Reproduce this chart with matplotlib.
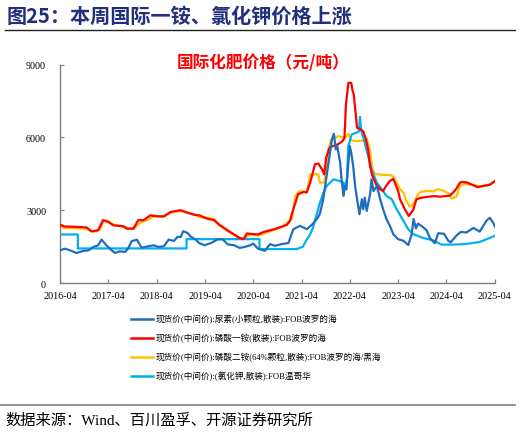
import matplotlib
matplotlib.use("Agg")
import matplotlib.pyplot as plt
from matplotlib.lines import Line2D

plt.rcParams['font.family'] = ['Liberation Serif', 'Noto Sans CJK SC', 'DejaVu Sans']

# ---- data (decimal years, yuan/ton) ----
urea_t = [2016.25, 2016.35, 2016.49, 2016.59, 2016.73, 2016.84, 2016.94, 2017.04, 2017.11, 2017.21,
          2017.32, 2017.39, 2017.49, 2017.60, 2017.67, 2017.73, 2017.84, 2017.94, 2018.08, 2018.19,
          2018.29, 2018.40, 2018.50, 2018.61, 2018.68, 2018.75, 2018.80, 2018.89, 2018.95, 2019.06,
          2019.13, 2019.24, 2019.38, 2019.52, 2019.62, 2019.72, 2019.86, 2019.97, 2020.07, 2020.18,
          2020.25, 2020.35, 2020.49, 2020.60, 2020.70, 2020.84, 2020.98, 2021.08, 2021.22, 2021.36,
          2021.49, 2021.59, 2021.63, 2021.70, 2021.81, 2021.88, 2021.92, 2021.96, 2021.99, 2022.05,
          2022.08, 2022.12, 2022.15, 2022.18, 2022.22, 2022.25, 2022.28, 2022.32, 2022.36, 2022.39,
          2022.45, 2022.50, 2022.53, 2022.56, 2022.60, 2022.67, 2022.70, 2022.74, 2022.81, 2022.88,
          2022.94, 2023.01, 2023.08, 2023.15, 2023.25, 2023.36, 2023.46,
          2023.53, 2023.57, 2023.62, 2023.66, 2023.77, 2023.84, 2023.91, 2024.01, 2024.08, 2024.20,
          2024.29, 2024.34, 2024.46, 2024.55, 2024.66, 2024.81, 2024.94, 2025.08, 2025.15, 2025.22,
          2025.26]
urea_v = [1349, 1417, 1321, 1238, 1321, 1349, 1486, 1555, 1789, 1555,
          1349, 1238, 1307, 1280, 1458, 1720, 1789, 1458, 1514, 1555,
          1486, 1514, 1789, 1734, 1899, 1899, 2133, 2064, 1926, 1789,
          1651, 1555, 1651, 1803, 1803, 1596, 1555, 1445, 1486, 1550,
          1624, 1417, 1329, 1603, 1535, 1603, 1650, 2219, 2357, 2219,
          2450, 2700, 2850, 3452, 4960, 5918, 6150, 5507, 5650, 4960,
          4274, 3590, 4000, 3860, 4960, 5644, 5370, 4822, 4000, 3590,
          2836, 3452, 3040, 3520, 2970, 3658, 4274, 3790, 4000, 3452,
          3041, 2630, 2357, 2014, 1808, 1740, 1562,
          2000, 2640, 2250, 2450, 2300, 2174, 1850, 1640, 2050, 2030,
          1739, 1680, 1960, 2110, 2080, 2270, 2120, 2570, 2690, 2480,
          2300]

map_t = [2016.25, 2016.35, 2016.63, 2016.80, 2016.90, 2017.04, 2017.14, 2017.25, 2017.35, 2017.56,
         2017.63, 2017.77, 2017.87, 2017.98, 2018.12, 2018.26, 2018.40, 2018.54, 2018.75, 2018.85,
         2019.02, 2019.15, 2019.30, 2019.44, 2019.55, 2019.70, 2019.84, 2019.95, 2020.05, 2020.12,
         2020.35, 2020.46, 2020.65, 2020.80, 2020.95, 2021.01, 2021.08, 2021.18, 2021.30, 2021.36,
         2021.43, 2021.53, 2021.60, 2021.67, 2021.72, 2021.76, 2021.83, 2021.90, 2022.00, 2022.10,
         2022.14, 2022.17, 2022.22, 2022.28, 2022.31, 2022.33, 2022.36, 2022.40, 2022.46, 2022.53,
         2022.58, 2022.63, 2022.67, 2022.72, 2022.80, 2022.88, 2022.94, 2023.00, 2023.08, 2023.15,
         2023.19, 2023.25, 2023.29, 2023.39, 2023.47, 2023.56, 2023.63, 2023.70, 2023.84, 2024.00,
         2024.12, 2024.32, 2024.39, 2024.46, 2024.53, 2024.60, 2024.67, 2024.80, 2024.90, 2025.00,
         2025.15, 2025.22, 2025.26]
map_v = [2400, 2330, 2310, 2290, 2130, 2170, 2590, 2520, 2380, 2340,
         2240, 2240, 2590, 2590, 2790, 2750, 2750, 2930, 3000, 2930,
         2820, 2780, 2650, 2590, 2400, 2200, 2014, 1870, 1808, 2040,
         2000, 2100, 2200, 2289, 2400, 2561, 3041, 3658, 3760, 3740,
         4139, 4900, 4920, 4700, 4480, 5166, 5576, 5644, 5713, 5849,
         5987, 7357, 8249, 8249, 7905, 7800, 7220, 6399, 6350, 6250,
         5950, 5500, 4800, 4400, 4050, 3863, 3795, 4000, 4205, 4290,
         4100, 3800, 3452, 3041, 2766, 3000, 3450, 3500, 3550, 3580,
         3560, 3600, 3729, 3900, 4139, 4169, 4150, 4032, 3950, 4000,
         4050, 4150, 4220]

dap_t = [2016.25, 2016.32, 2016.80, 2016.94, 2017.08, 2017.16, 2017.25, 2017.39, 2017.60, 2017.70,
         2017.81, 2017.91, 2018.05, 2018.19, 2018.40, 2018.54, 2018.75, 2018.89, 2019.02, 2019.15,
         2019.30, 2019.44, 2019.52, 2019.72, 2019.84, 2019.93, 2020.01, 2020.08, 2020.12, 2020.20,
         2020.36, 2020.53, 2020.70, 2020.87, 2021.05, 2021.12, 2021.22, 2021.36, 2021.43, 2021.60,
         2021.63, 2021.72, 2021.77, 2021.80, 2021.86, 2022.01, 2022.15, 2022.22, 2022.27, 2022.40,
         2022.53, 2022.60, 2022.66, 2022.69, 2022.73, 2022.77, 2022.87, 2023.11, 2023.18, 2023.28,
         2023.36, 2023.42, 2023.49, 2023.53, 2023.60, 2023.66, 2023.72, 2023.84, 2023.98, 2024.08,
         2024.20, 2024.32, 2024.36, 2024.46, 2024.53, 2024.62, 2024.80, 2024.95, 2025.10, 2025.22,
         2025.26]
dap_v = [2380, 2270, 2240, 2105, 2215, 2590, 2545, 2380, 2310, 2240,
         2280, 2490, 2590, 2750, 2725, 2900, 2970, 2890, 2820, 2700,
         2680, 2650, 2420, 2130, 2014, 1930, 1808, 1860, 1919, 2000,
         1950, 2083, 2200, 2357, 2630, 3590, 3795, 3727, 4480, 4480,
         4139, 4139, 4822, 5438, 5900, 6055, 5987, 6150, 5880, 5850,
         5870, 5958, 5545, 5100, 4650, 4500, 4470, 4444, 4300, 3894,
         3727, 3400, 3150, 3177, 3383, 3650, 3756, 3800, 3780, 3870,
         3800, 3658, 3480, 3560, 4000, 4080, 4050, 3980, 4020, 4150,
         4210]

kcl_t = [2016.25, 2016.62, 2016.62, 2018.87, 2018.87, 2020.38, 2020.38, 2021.15, 2021.22, 2021.28,
         2021.36, 2021.42, 2021.49, 2021.56, 2021.63, 2021.70, 2021.77, 2021.91, 2022.05, 2022.12,
         2022.15, 2022.19, 2022.22, 2022.29, 2022.38, 2022.44, 2022.46, 2022.48, 2022.50, 2022.56,
         2022.63, 2022.70, 2022.81, 2022.91, 2023.01, 2023.12, 2023.22, 2023.36, 2023.46, 2023.56,
         2023.77, 2023.97, 2024.15, 2024.39, 2024.66, 2024.94, 2025.25]
kcl_v = [2000, 2000, 1425, 1425, 1808, 1808, 1400, 1400, 1450, 1500,
         1800, 1968, 2289, 2793, 3300, 3700, 4000, 4274, 4200, 4139,
         3894, 4300, 5644, 6124, 6193, 6250, 6850, 6400, 6193, 5781,
         5232, 4685, 4139, 3863, 3590, 3452, 3041, 2561, 2219, 2014,
         1858, 1761, 1582, 1582, 1610, 1692, 1940]

tick_pos = [2016.25 + i for i in range(10)]
tick_labels = ['2016-04', '2017-04', '2018-04', '2019-04', '2020-04',
               '2021-04', '2022-04', '2023-04', '2024-04', '2025-04']
y_ticks = [0, 3000, 6000, 9000]

series_labels = ['现货价(中间价):尿素(小颗粒,散装):FOB波罗的海',
                 '现货价(中间价):磷酸一铵(散装):FOB波罗的海',
                 '现货价(中间价):磷酸二铵(64%颗粒,散装):FOB波罗的海/黑海',
                 '现货价(中间价):(氯化钾,散装):FOB温哥华']
colors = ['#1F6DBE', '#FF0000', '#FFC000', '#00B0F0']

W, H = 521, 435
fig = plt.figure(figsize=(W / 100, H / 100), dpi=100)

ax = fig.add_axes([60 / W, 1 - 284 / H, (494.7 - 60) / W, (284 - 65.7) / H])
ax.plot(dap_t, dap_v, color=colors[2], lw=1.6, zorder=2)
ax.plot(map_t, map_v, color=colors[1], lw=1.6, zorder=3)
ax.plot(kcl_t, kcl_v, color=colors[3], lw=1.6, zorder=2)
ax.plot(urea_t, urea_v, color=colors[0], lw=1.6, zorder=4)

ax.set_xlim(2016.25, 2025.25)
ax.set_ylim(0, 9000)
ax.set_xticks(tick_pos)
ax.set_xticklabels(tick_labels)
ax.set_yticks(y_ticks)
ax.set_yticklabels([str(v) for v in y_ticks])
for s in ['top', 'right']:
    ax.spines[s].set_visible(False)
for s in ['left', 'bottom']:
    ax.spines[s].set_color('#7F7F7F')
    ax.spines[s].set_linewidth(1.0)
ax.tick_params(axis='both', direction='in', length=3, color='#7F7F7F',
               labelsize=7.3, labelcolor='black')
ax.tick_params(axis='y', pad=10)
ax.tick_params(axis='x', pad=6)
for lab in ax.get_xticklabels() + ax.get_yticklabels():
    lab.set_family('Liberation Serif')

# chart title
fig.text(263 / W, 1 - 63 / H, '国际化肥价格（元/吨）', color='#FF0000',
         fontsize=12, ha='center', va='center', family=['Noto Sans CJK SC'],
         fontweight='bold')

# header title and rule
fig.text(7 / W, 1 - 16 / H, '图25：本周国际一铵、氯化钾价格上涨', color='#22307C',
         fontsize=14.5, fontweight='bold', ha='left', va='center',
         family=['Noto Sans CJK SC', 'DejaVu Sans'])
fig.add_artist(Line2D([5 / W, 515 / W], [1 - 30.5 / H, 1 - 30.5 / H],
                      color='#222222', lw=1.0, transform=fig.transFigure))

# legend
rows_y = [319.5, 338.5, 357.5, 376.5]
for i, yy in enumerate(rows_y):
    fig.add_artist(Line2D([131 / W, 153 / W], [1 - yy / H, 1 - yy / H],
                          color=colors[i], lw=1.8, transform=fig.transFigure))
    fig.text(156 / W, 1 - yy / H, series_labels[i], fontsize=6.2, ha='left', va='center',
             family=['Liberation Serif', 'Noto Sans CJK SC'])

# footer
fig.add_artist(Line2D([0, 515 / W], [1 - 406 / H, 1 - 406 / H],
                      color='#7F7F7F', lw=1.2, transform=fig.transFigure))
fig.text(5 / W, 1 - 421 / H, '数据来源：Wind、百川盈孚、开源证券研究所', fontsize=11,
         ha='left', va='center', family=['Liberation Serif', 'Noto Sans CJK SC'])

fig.savefig('out.png', dpi=100)
